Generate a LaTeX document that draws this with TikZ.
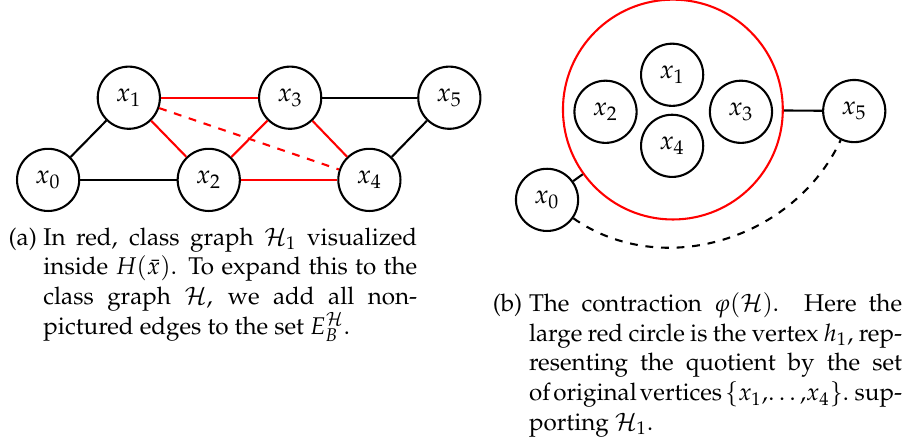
\documentclass[tikz,border=0pt]{standalone}
\usepackage[T1]{fontenc}
\usepackage{mathpazo}
\begin{document}
\begin{tikzpicture}[
    sommet/.style={circle, draw, thick, minimum size=0.84cm, inner sep=0pt, font=\fontsize{10}{11.3}\selectfont},
    arete/.style={thick},
    rouge/.style={thick, red},
    legende/.style={anchor=base west, inner sep=0pt, font=\fontsize{9.3}{11.3}\selectfont}
  ]
  \useasboundingbox (0,0) rectangle (12.28,6.05);

  % (a) Le graphe H(x)
  \node[sommet] (a0) at (0.65, 3.62) {$x_0$};
  \node[sommet] (a1) at (1.74, 4.73) {$x_1$};
  \node[sommet] (a2) at (2.82, 3.62) {$x_2$};
  \node[sommet] (a3) at (3.92, 4.73) {$x_3$};
  \node[sommet] (a4) at (4.99, 3.62) {$x_4$};
  \node[sommet] (a5) at (6.07, 4.73) {$x_5$};
  \draw[arete] (a0) -- (a1);
  \draw[arete] (a0) -- (a2);
  \draw[arete] (a3) -- (a5);
  \draw[arete] (a4) -- (a5);

  % Graphe de classe H_1 en rouge
  \draw[rouge] (a1) -- (a3);
  \draw[rouge] (a1) -- (a2);
  \draw[rouge] (a2) -- (a3);
  \draw[rouge] (a3) -- (a4);
  \draw[rouge] (a2) -- (a4);
  \draw[rouge, dashed] (a1) -- (a4);

  % Legende (a)
  \node[legende] (la) at (0.11, 2.74) {(a)};
  \node[legende] (ta) at (0.58, 2.74) {\parbox[t]{5.05cm}{\baselineskip=11.4pt
    In red, class graph $\mathcal{H}_1$ visualized\linebreak
    inside $H(\bar{x})$. To expand this to the\linebreak
    class graph $\mathcal{H}$, we add all non-\linebreak
    pictured edges to the set $E_B^{\mathcal{H}}$.}};

  % (b) La contraction
  \node[circle, draw=red, thick, minimum size=2.97cm] (h1) at (9.09, 4.57) {};
  \node[sommet] (b1) at (9.08, 5.04) {$x_1$};
  \node[sommet] (b2) at (8.18, 4.54) {$x_2$};
  \node[sommet] (b3) at (10.01, 4.54) {$x_3$};
  \node[sommet] (b4) at (9.08, 4.08) {$x_4$};
  \node[sommet] (b5) at (11.54, 4.55) {$x_5$};
  \node[sommet] (b0) at (7.39, 3.35) {$x_0$};
  \draw[arete] (h1) -- (b5);
  \draw[arete] (b0) -- (h1);
  \draw[arete, dashed] (b0) to[out=-35, in=-115] (b5);

  % Legende (b)
  \node[legende] (lb) at (6.65, 1.84) {(b)};
  \node[legende] (tb) at (7.14, 1.84) {\parbox[t]{5.04cm}{\baselineskip=11.4pt
    The contraction $\varphi(\mathcal{H})$. Here the\linebreak
    large red circle is the vertex $h_1$, rep-\linebreak
    resenting the quotient by the set\linebreak
    {\spaceskip=0.2em plus 0.1em minus 0.1em of original vertices $\{x_1,\!\dots,\!x_4\}$. sup-}\linebreak
    porting $\mathcal{H}_1$.}};
\end{tikzpicture}
\end{document}
